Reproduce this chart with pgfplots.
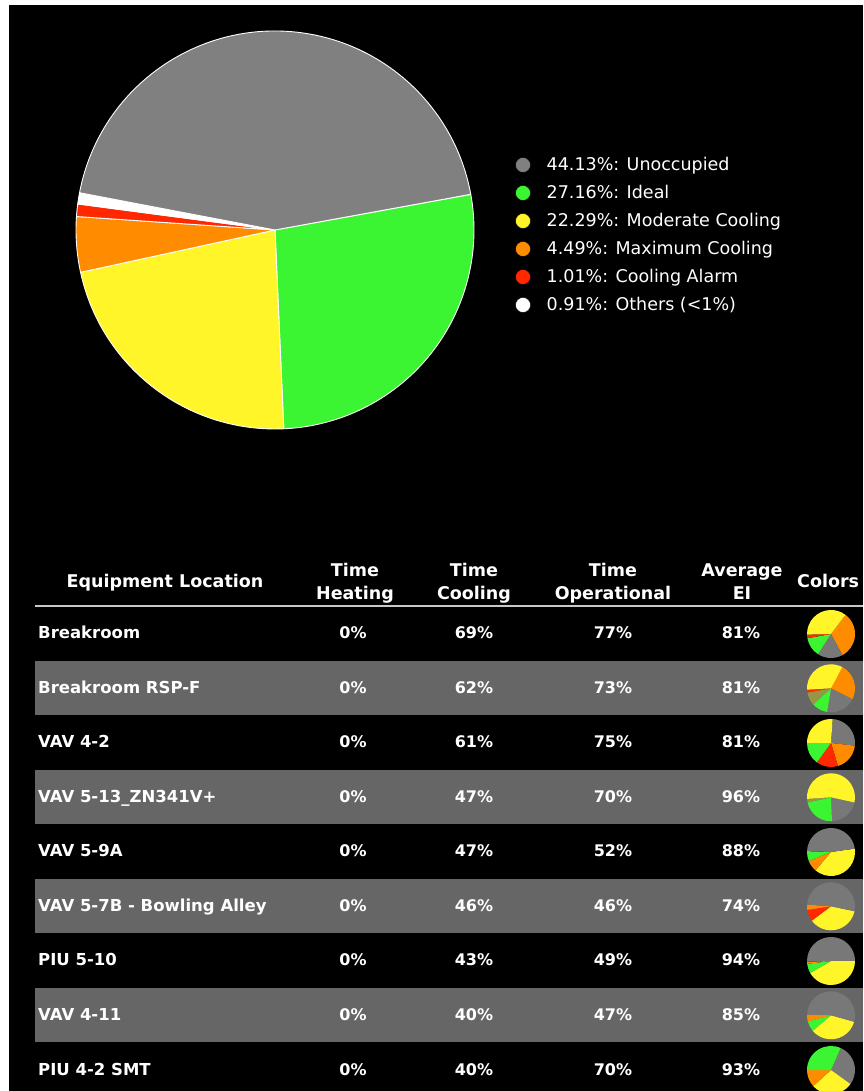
\documentclass[border=0pt]{standalone}
\usepackage{pgfplots}
\pgfplotsset{compat=1.18}
\usepackage{fontspec}
\setmainfont{DejaVu Sans}
\definecolor{ugrey}{RGB}{128,128,128}
\definecolor{sgrey}{RGB}{120,120,120}
\definecolor{ugreen}{RGB}{59,245,51}
\definecolor{uyellow}{RGB}{255,245,40}
\definecolor{uorange}{RGB}{255,140,0}
\definecolor{ured}{RGB}{255,40,0}
\definecolor{uolive}{RGB}{150,150,70}
\definecolor{rowgrey}{RGB}{102,102,102}
\definecolor{lineg}{RGB}{200,200,200}
% pie: #1 cx, #2 cy (px from top), #3 radius, #4 start angle, #5 style, #6 list pct/colour (clockwise)
\newcommand\drawpie[6]{%
  \pgfmathsetmacro\piecy{1091-#2}%
  \pgfmathsetmacro\cura{#4}%
  \global\let\cura\cura
  \foreach \p/\c in {#6}{%
    \pgfmathsetmacro\nexta{\cura-3.6*\p}%
    \path[fill=\c,#5] (axis cs:#1,\piecy) -- ++(\cura:#3pt) arc[start angle=\cura,end angle=\nexta,radius=#3pt] -- cycle;
    \global\let\cura\nexta
  }%
}
\newcommand\trow[6]{% baseline (axis y), name, heating, cooling, operational, EI
  \node[anchor=base west,text=white,font=\fontsize{16.5}{19}\selectfont\bfseries,inner sep=0pt] at (axis cs:38,#1) {#2};
  \node[anchor=base,text=white,font=\fontsize{16}{19}\selectfont\bfseries,inner sep=0pt] at (axis cs:353,#1) {#3\%};
  \node[anchor=base,text=white,font=\fontsize{16}{19}\selectfont\bfseries,inner sep=0pt] at (axis cs:474,#1) {#4\%};
  \node[anchor=base,text=white,font=\fontsize{16}{19}\selectfont\bfseries,inner sep=0pt] at (axis cs:613,#1) {#5\%};
  \node[anchor=base,text=white,font=\fontsize{16}{19}\selectfont\bfseries,inner sep=0pt] at (axis cs:741,#1) {#6\%};
}
\begin{document}
\begin{tikzpicture}
\begin{axis}[x=1pt,y=1pt,xmin=0,xmax=863,ymin=0,ymax=1091,hide axis,clip=false]
\pgfplotsextra{%
  \fill[white] (axis cs:0,0) rectangle (axis cs:863,1091);
  \fill[black] (axis cs:9,0) rectangle (axis cs:863,1086);
  % table row stripes
  \fill[rowgrey] (axis cs:35,376) rectangle (axis cs:863,430);
  \fill[rowgrey] (axis cs:35,267) rectangle (axis cs:863,321);
  \fill[rowgrey] (axis cs:35,158) rectangle (axis cs:863,212);
  \fill[rowgrey] (axis cs:35,49) rectangle (axis cs:863,103);
  \draw[lineg,line width=2pt] (axis cs:35,485) -- (axis cs:863,485);
  % main pie
  \drawpie{275}{230}{199}{10.3}{draw=white,line width=0.9pt,line join=round}{27.16/ugreen, 22.29/uyellow, 4.49/uorange, 1.01/ured, 0.91/white, 44.13/ugrey}
  % small pies
  \drawpie{831}{634}{24}{53}{draw=none}{31.9/uorange, 16.9/sgrey, 13.1/ugreen, 2.4/ured, 35.7/uyellow}
  \drawpie{831}{688.3}{24}{62}{draw=none}{24.7/uorange, 20.1/sgrey, 10.7/ugreen, 8.9/uolive, 1.9/ured, 33.7/uyellow}
  \drawpie{831}{743}{24}{86}{draw=none}{25.7/sgrey, 18.5/uorange, 14.7/ured, 15.0/ugreen, 26.1/uyellow}
  \drawpie{831}{797.3}{24}{-12.4}{draw=none}{20.9/sgrey, 22.2/ugreen, 2.4/uolive, 54.5/uyellow}
  \drawpie{831}{852}{24}{8}{draw=none}{38.3/uyellow, 7.8/uorange, 6.7/ugreen, 47.2/sgrey}
  \drawpie{831}{906.3}{24}{-12}{draw=none}{36.4/uyellow, 7.9/ured, 3.5/uorange, 52.2/sgrey}
  \drawpie{831}{961}{24}{0}{draw=none}{41.7/uyellow, 6.4/ugreen, 1.4/uorange, 50.5/sgrey}
  \drawpie{831}{1015.3}{24}{-15.7}{draw=none}{34.4/uyellow, 7.1/ugreen, 4.6/uorange, 53.9/sgrey}
  \drawpie{831}{1070}{24}{66}{draw=none}{28.3/sgrey, 28.3/uyellow, 11.7/uorange, 31.7/ugreen}
}
% legend markers
\addplot[only marks,mark=*,mark size=7.5pt,mark options={fill=ugrey,draw=none}] coordinates {(523,926)};
\addplot[only marks,mark=*,mark size=7.5pt,mark options={fill=ugreen,draw=none}] coordinates {(523,898)};
\addplot[only marks,mark=*,mark size=7.5pt,mark options={fill=uyellow,draw=none}] coordinates {(523,870)};
\addplot[only marks,mark=*,mark size=7.5pt,mark options={fill=uorange,draw=none}] coordinates {(523,842)};
\addplot[only marks,mark=*,mark size=7.5pt,mark options={fill=ured,draw=none}] coordinates {(523,814)};
\addplot[only marks,mark=*,mark size=7.5pt,mark options={fill=white,draw=none}] coordinates {(523,786)};
% legend text
\begin{scope}[every node/.style={anchor=base west,text=white,font=\fontsize{17.5}{20}\selectfont,inner sep=0pt}]
\node at (axis cs:546.5,920) {44.13\%: Unoccupied};
\node at (axis cs:546.5,892) {27.16\%: Ideal};
\node at (axis cs:546.5,864) {22.29\%: Moderate Cooling};
\node at (axis cs:546.5,836) {4.49\%: Maximum Cooling};
\node at (axis cs:546.5,808) {1.01\%: Cooling Alarm};
\node at (axis cs:546.5,780) {0.91\%: Others (<1\%)};
\end{scope}
% table header
\begin{scope}[every node/.style={anchor=base,text=white,font=\fontsize{17.5}{20}\selectfont\bfseries,inner sep=0pt}]
\node at (axis cs:165,503.5) {Equipment Location};
\node at (axis cs:355,514.5) {Time};
\node at (axis cs:355,491) {Heating};
\node at (axis cs:474,514.5) {Time};
\node at (axis cs:474,491) {Cooling};
\node at (axis cs:613,514.5) {Time};
\node at (axis cs:613,491) {Operational};
\node at (axis cs:742,514.5) {Average};
\node at (axis cs:742,491) {EI};
\node[anchor=base west] at (axis cs:797,503.5) {Colors};
\end{scope}
% table rows
\trow{452}{Breakroom}{0}{69}{77}{81}
\trow{397.5}{Breakroom RSP-F}{0}{62}{73}{81}
\trow{343}{VAV 4-2}{0}{61}{75}{81}
\trow{288.5}{VAV 5-13\_ZN341V+}{0}{47}{70}{96}
\trow{234}{VAV 5-9A}{0}{47}{52}{88}
\trow{179.5}{VAV 5-7B - Bowling Alley}{0}{46}{46}{74}
\trow{125}{PIU 5-10}{0}{43}{49}{94}
\trow{70.5}{VAV 4-11}{0}{40}{47}{85}
\trow{16}{PIU 4-2 SMT}{0}{40}{70}{93}
\end{axis}
\pgfresetboundingbox
\useasboundingbox (0,0) rectangle (863pt,1091pt);
\end{tikzpicture}
\end{document}
